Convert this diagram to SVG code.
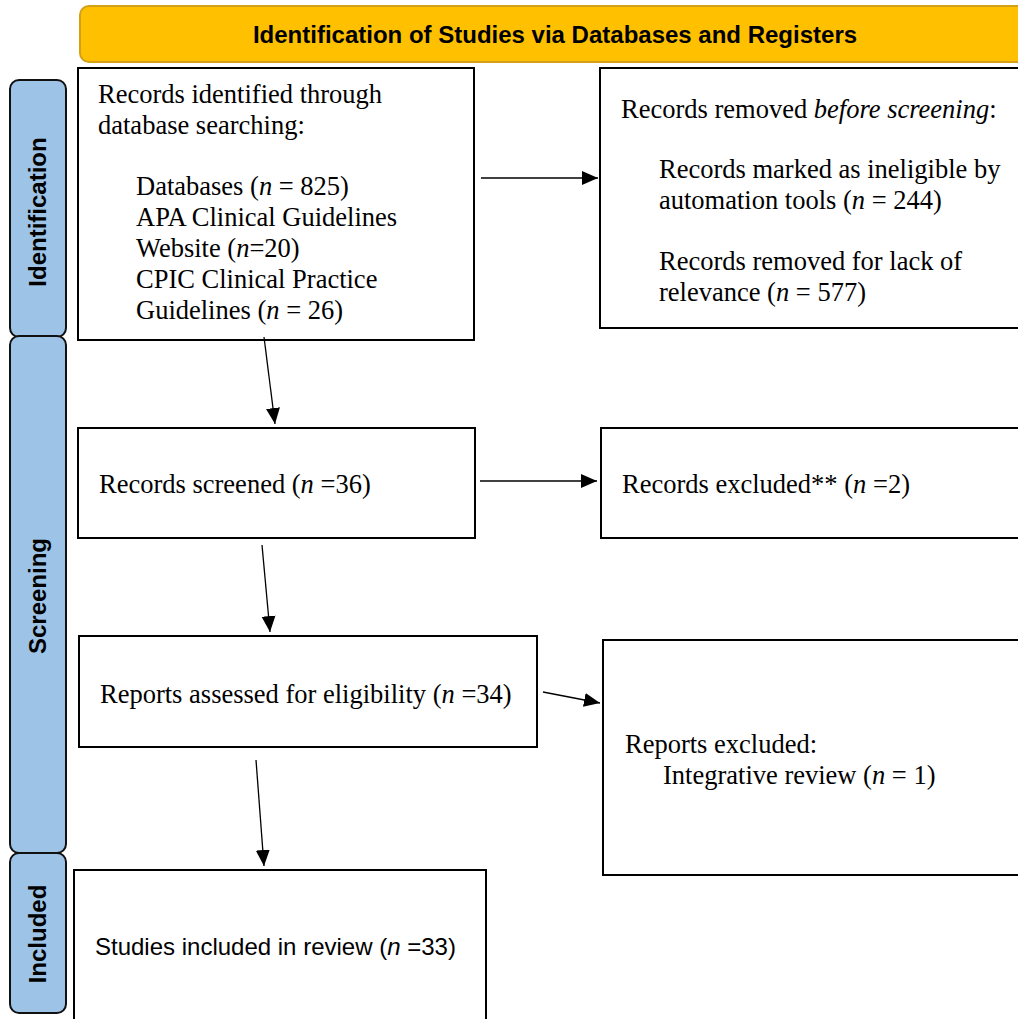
<svg xmlns="http://www.w3.org/2000/svg" width="1018" height="1019" viewBox="0 0 1018 1019">
<defs>
<marker id="ah2" viewBox="0 0 16 14" refX="16" refY="7" markerWidth="16" markerHeight="14" markerUnits="userSpaceOnUse" orient="auto">
<path d="M0,0 L16,7 L0,14 Z" fill="#000"/>
</marker>
</defs>
<style>
.box{fill:#fff;stroke:#000;stroke-width:2}
.side{fill:#9DC3E6;stroke:#111;stroke-width:2}
.t{font-family:"Liberation Sans",Arial,sans-serif;font-family:"Liberation Serif","Times New Roman",serif;font-size:26.5px;fill:#000}
.s{font-family:"Liberation Sans",Arial,sans-serif;font-size:24px;fill:#000}
.sl{font-family:"Liberation Sans",Arial,sans-serif;font-size:24px;font-weight:bold;fill:#000;text-anchor:middle}
.h{font-family:"Liberation Sans",Arial,sans-serif;font-size:24px;font-weight:bold;fill:#000;text-anchor:middle}
.c{stroke:#000;stroke-width:1.3;fill:none;marker-end:url(#ah2)}
</style>
<rect width="1018" height="1019" fill="#fff"/>
<g id="header">
<rect x="80" y="6" width="960" height="56" rx="9" fill="#FFC000" stroke="#D4A017" stroke-width="2"/>
<text class="h" x="555" y="43">Identification of Studies via Databases and Registers</text>
</g>
<g id="phase-identification">
<rect class="side" x="10" y="80" width="56" height="257" rx="9"/>
<text class="sl" transform="translate(46,212) rotate(-90)">Identification</text>
</g>
<g id="phase-screening">
<rect class="side" x="10" y="336" width="56" height="517" rx="9"/>
<text class="sl" transform="translate(46,596) rotate(-90)">Screening</text>
</g>
<g id="phase-included">
<rect class="side" x="10" y="853" width="56" height="160" rx="9"/>
<text class="sl" transform="translate(46,934) rotate(-90)">Included</text>
</g>
<g id="records-identified">
<rect class="box" x="78" y="68" width="396" height="272"/>
<text class="t" x="98" y="103">Records identified through</text>
<text class="t" x="98" y="134">database searching:</text>
<text class="t" x="136" y="195">Databases (<tspan font-style="italic">n</tspan> = 825)</text>
<text class="t" x="136" y="226">APA Clinical Guidelines</text>
<text class="t" x="136" y="257">Website (<tspan font-style="italic">n</tspan>=20)</text>
<text class="t" x="136" y="288">CPIC Clinical Practice</text>
<text class="t" x="136" y="319">Guidelines (<tspan font-style="italic">n</tspan> = 26)</text>
</g>
<g id="records-removed">
<rect class="box" x="600" y="68" width="440" height="260"/>
<text class="t" x="621" y="118">Records removed <tspan font-style="italic">before screening</tspan>:</text>
<text class="t" x="659" y="178">Records marked as ineligible by</text>
<text class="t" x="659" y="209">automation tools (<tspan font-style="italic">n</tspan> = 244)</text>
<text class="t" x="659" y="270">Records removed for lack of</text>
<text class="t" x="659" y="301">relevance (<tspan font-style="italic">n</tspan> = 577)</text>
</g>
<g id="records-screened">
<rect class="box" x="78" y="428" width="397" height="110"/>
<text class="t" x="99" y="493">Records screened (<tspan font-style="italic">n</tspan> =36)</text>
</g>
<g id="records-excluded">
<rect class="box" x="601" y="428" width="440" height="110"/>
<text class="t" x="622" y="493">Records excluded** (<tspan font-style="italic">n</tspan> =2)</text>
</g>
<g id="reports-assessed">
<rect class="box" x="79" y="636" width="458" height="111"/>
<text class="t" x="100" y="703">Reports assessed for eligibility (<tspan font-style="italic">n</tspan> =34)</text>
</g>
<g id="reports-excluded">
<rect class="box" x="603" y="640" width="440" height="235"/>
<text class="t" x="625" y="753">Reports excluded:</text>
<text class="t" x="663" y="784">Integrative review (<tspan font-style="italic">n</tspan> = 1)</text>
</g>
<g id="studies-included">
<rect class="box" x="74" y="870" width="412" height="160"/>
<text class="s" x="95" y="955">Studies included in review (<tspan font-style="italic">n</tspan> =33)</text>
</g>
<g id="connectors">
<line class="c" x1="481" y1="178" x2="598" y2="178"/>
<line class="c" x1="264" y1="337" x2="275" y2="424"/>
<line class="c" x1="480" y1="481" x2="597" y2="481"/>
<line class="c" x1="262" y1="545" x2="270" y2="632"/>
<line class="c" x1="543" y1="692" x2="600" y2="703"/>
<line class="c" x1="256" y1="760" x2="264" y2="866"/>
</g>
</svg>
